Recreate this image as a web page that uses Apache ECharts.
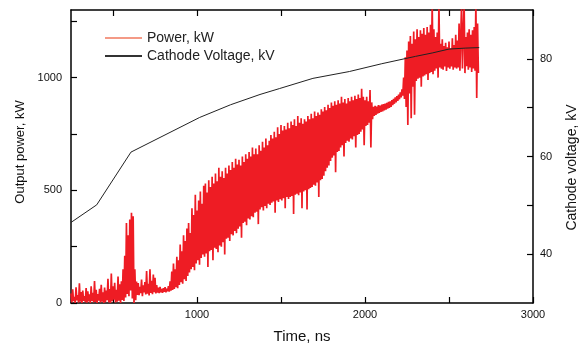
<!DOCTYPE html>
<html>
<head>
<meta charset="utf-8">
<script src="https://cdn.jsdelivr.net/npm/echarts@6/dist/echarts.min.js"></script>
<style>
  html, body { margin: 0; padding: 0; background: #fff; }
  #chart { width: 587px; height: 349px; }
</style>
</head>
<body>
<div id="chart"></div>
<script>
// Axis ticks and labelled values
const timeTickValues = [500, 1000, 1500, 2000, 2500, 3000];
const timeLabelValues = [1000, 2000, 3000];
const powerTickValues = [0, 250, 500, 750, 1000, 1250];
const powerLabelValues = [0, 500, 1000];
const voltageTickValues = [40, 50, 60, 70, 80];
const voltageLabelValues = [40, 60, 80];

// Cathode voltage (kV) at the listed times (ns)
const voltageTimeNs = [250, 403, 607, 1016, 1200, 1375, 1490, 1690, 1907, 2100, 2300, 2400, 2500, 2600, 2680];
const voltageKv = [46.5, 50.1, 60.9, 68.0, 70.6, 72.7, 73.9, 76.0, 77.4, 79.0, 80.5, 81.2, 82.0, 82.2, 82.3];

// Output power trace (kW), one sample every 5 ns starting at 250 ns; 20 samples per row
const traceStartNs = 250;
const traceStepNs = 5;
const powerKw = [
  42, 3, 61, 8, 27, 0, 70, 12, 35, 2, 88, 6, 48, 0, 55, 10, 31, 4, 66, 1,                                  // 250
  52, 7, 38, 0, 74, 9, 45, 3, 97, 5, 58, 0, 40, 11, 63, 2, 81, 6, 47, 0,                                   // 350
  69, 4, 55, 12, 108, 3, 62, 0, 131, 8, 74, 15, 90, 2, 58, 6, 117, 10, 83, 0,                              // 450
  96, 14, 150, 9, 210, 25, 355, 40, 300, 30, 370, 55, 400, 20, 385, 0, 150, 12, 95, 36,                    // 550
  88, 35, 72, 44, 104, 30, 79, 47, 93, 38, 142, 41, 85, 33, 150, 45, 98, 39, 126, 48,                      // 650
  112, 42, 80, 46, 68, 44, 72, 48, 62, 45, 66, 50, 70, 47, 64, 52, 75, 50, 96, 55,                         // 750
  140, 58, 175, 62, 150, 70, 205, 66, 190, 80, 260, 92, 230, 85, 300, 105, 275, 98, 330, 120,              // 850
  355, 135, 310, 150, 420, 160, 390, 145, 480, 175, 410, 190, 455, 170, 495, 200, 440, 215, 520, 205,      // 950
  530, 220, 490, 160, 545, 230, 515, 235, 560, 190, 530, 245, 575, 240, 540, 225, 600, 255, 560, 250,      // 1050
  585, 270, 555, 215, 600, 285, 575, 290, 610, 275, 590, 305, 625, 300, 600, 320, 640, 310, 615, 330,      // 1150
  635, 340, 610, 290, 650, 355, 625, 360, 660, 345, 640, 375, 670, 370, 650, 385, 690, 380, 660, 400,      // 1250
  685, 405, 660, 350, 700, 415, 675, 425, 715, 410, 690, 430, 730, 420, 700, 440, 720, 435, 745, 445,      // 1350
  730, 450, 760, 400, 735, 455, 780, 448, 750, 460, 790, 455, 765, 465, 785, 420, 770, 470, 800, 462,      // 1450
  775, 470, 805, 475, 790, 395, 815, 480, 785, 485, 830, 478, 800, 490, 820, 420, 795, 495, 815, 500,      // 1550
  805, 415, 830, 505, 815, 510, 840, 515, 820, 525, 850, 520, 830, 535, 845, 470, 835, 545, 860, 550,      // 1650
  850, 565, 870, 585, 855, 600, 880, 610, 865, 630, 890, 645, 875, 655, 895, 580, 880, 670, 900, 675,      // 1750
  885, 690, 915, 700, 890, 650, 905, 710, 885, 720, 910, 715, 895, 730, 915, 725, 900, 740, 920, 690,      // 1850
  905, 745, 925, 750, 910, 760, 950, 770, 915, 700, 900, 785, 915, 790, 895, 800, 945, 690, 890, 815,      // 1950
  870, 830, 875, 835, 872, 840, 878, 843, 876, 848, 880, 850, 882, 855, 885, 858, 888, 862, 892, 866,      // 2050
  895, 870, 900, 878, 906, 884, 912, 890, 918, 897, 925, 904, 935, 912, 948, 920, 1000, 905, 1090, 870,    // 2150
  1120, 790, 1160, 930, 1185, 820, 1150, 960, 1205, 835, 1170, 985, 1215, 995, 1180, 1000, 1210, 960, 1195, 1005, // 2250
  1220, 1010, 1190, 1015, 1225, 990, 1200, 1020, 1235, 1025, 1330, 1015, 1215, 1030, 1180, 1040, 1200, 1000, 1330, 1045, // 2350
  1150, 1040, 1170, 1035, 1140, 1050, 1155, 1030, 1135, 1045, 1160, 1040, 1130, 1050, 1175, 1035, 1145, 1045, 1190, 1040, // 2450
  1165, 1045, 1240, 1030, 1185, 1330, 1040, 1195, 1330, 1020, 1180, 1050, 1200, 1035, 1215, 1045, 1190, 1025, 1210, 1040, // 2550
  1225, 1030, 1330, 910, 1240, 1020                                                                          // 2650
];

const powerData = powerKw.map((v, i) => [traceStartNs + i * traceStepNs, v]);
const voltageData = voltageTimeNs.map((t, i) => [t, voltageKv[i]]);

const FONT = 'Liberation Sans';
const INK = '#111';

const axisLineStyle = { show: true, onZero: false, lineStyle: { color: '#000', width: 1.5 } };
const tickStyle = { show: true, inside: true, length: 6, lineStyle: { color: '#000', width: 1.2 } };
const labelStyle = { color: INK, fontSize: 11, fontFamily: FONT, formatter: v => String(v) };

const chart = echarts.init(document.getElementById('chart'));

chart.setOption({
  backgroundColor: '#fff',
  animation: false,
  grid: { left: 71, right: 53, top: 10, bottom: 45, containLabel: false },
  legend: {
    orient: 'vertical',
    left: 105,
    top: 30,
    padding: 0,
    itemWidth: 37,
    itemHeight: 2,
    itemGap: 2,
    icon: 'rect',
    textStyle: { color: '#222', fontSize: 14, fontFamily: FONT, lineHeight: 16 },
    data: [
      { name: 'Power, kW', itemStyle: { color: '#f49a86' } },
      { name: 'Cathode Voltage, kV', itemStyle: { color: '#333' } }
    ]
  },
  xAxis: [
    {
      type: 'value', position: 'bottom', min: 250, max: 3000,
      axisLine: axisLineStyle,
      axisTick: Object.assign({ customValues: timeTickValues }, tickStyle),
      axisLabel: Object.assign({ customValues: timeLabelValues, margin: 6 }, labelStyle),
      splitLine: { show: false },
      name: 'Time, ns', nameLocation: 'middle', nameGap: 26,
      nameTextStyle: { color: INK, fontSize: 15, fontFamily: FONT }
    },
    {
      type: 'value', position: 'top', min: 250, max: 3000,
      axisLine: axisLineStyle,
      axisTick: Object.assign({ customValues: timeTickValues }, tickStyle),
      axisLabel: { show: false },
      splitLine: { show: false }
    }
  ],
  yAxis: [
    {
      type: 'value', position: 'left', min: 0, max: 1300,
      axisLine: axisLineStyle,
      axisTick: Object.assign({ customValues: powerTickValues }, tickStyle),
      axisLabel: Object.assign({ customValues: powerLabelValues, margin: 9 }, labelStyle),
      splitLine: { show: false },
      name: 'Output power, kW', nameLocation: 'middle', nameRotate: 90, nameGap: 44,
      nameTextStyle: { color: INK, fontSize: 13, fontFamily: FONT, padding: [0, 0, 0, 9] }
    },
    {
      type: 'value', position: 'right', min: 30, max: 90,
      axisLine: axisLineStyle,
      axisTick: Object.assign({ customValues: voltageTickValues }, tickStyle),
      axisLabel: Object.assign({ customValues: voltageLabelValues, margin: 7 }, labelStyle),
      splitLine: { show: false },
      name: 'Cathode voltage, kV', nameLocation: 'middle', nameRotate: 90, nameGap: 32,
      nameTextStyle: { color: INK, fontSize: 14, fontFamily: FONT, padding: [0, 22, 0, 0] }
    }
  ],
  series: [
    {
      name: 'Power, kW', type: 'line', xAxisIndex: 0, yAxisIndex: 0,
      data: powerData, symbol: 'none', clip: true,
      lineStyle: { color: '#ee1c24', width: 1.7 },
      itemStyle: { color: '#ee1c24' }
    },
    {
      name: 'Cathode Voltage, kV', type: 'line', xAxisIndex: 0, yAxisIndex: 1,
      data: voltageData, symbol: 'none', clip: true,
      lineStyle: { color: '#222', width: 1 },
      itemStyle: { color: '#222' }
    }
  ]
});
</script>
</body>
</html>
